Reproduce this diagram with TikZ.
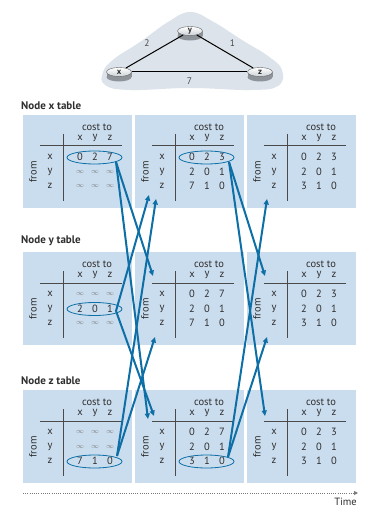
\documentclass[tikz,border=0pt]{standalone}
\usepackage{fontspec}
\setmainfont{PT Sans}
\usepackage{tikz}
\usetikzlibrary{arrows.meta, calc, shapes.geometric}
\definecolor{my_panelblue}{HTML}{CADDEE}
\definecolor{my_arrowblue}{HTML}{0E6FA6}
\definecolor{my_darkgray}{HTML}{2E2E2E}
\definecolor{my_rulegray}{HTML}{4A4A4A}
\definecolor{my_infgray}{HTML}{7A7A7A}
\definecolor{my_cloud}{HTML}{DCE3EA}
\definecolor{my_routerbody}{HTML}{8E9399}
\definecolor{my_routertop}{HTML}{CDD1D5}
\newcommand{\infsym}{{\color{my_infgray}\fontsize{7.5}{7.5}\selectfont$\infty$}}

\begin{document}
\begin{tikzpicture}[
    x=1pt, y=-1pt,   % 1 unit = 1pt, y grows downwards like the page
    panel/.style={fill=my_panelblue, anchor=north west, inner sep=0pt,
        minimum width=109pt, minimum height=93pt},
    txt/.style={text=my_darkgray, inner sep=1pt, font=\fontsize{10.5}{11}\selectfont},
    entry/.style={txt},
    fromlbl/.style={txt, rotate=90},
    title/.style={txt, anchor=west, font=\fontsize{11}{12}\selectfont\bfseries},
    rule/.style={my_rulegray, line width=1pt},
    pick/.style={my_arrowblue, line width=0.8pt},
    msg/.style={my_arrowblue, line width=2pt, -{Triangle[length=5.5pt,width=5pt]}},
    router/.style={ellipse, minimum width=25pt, minimum height=9pt, inner sep=0pt,
        draw=my_routerbody!70!black, line width=0.4pt, top color=white,
        bottom color=my_routertop, text=my_darkgray,
        font=\fontsize{8.5}{8}\selectfont\bfseries},
    link/.style={black, line width=1pt},
    cost/.style={text=my_rulegray, font=\fontsize{9.5}{10}\selectfont},
]
\useasboundingbox (0,0) rectangle (382,518);

% ── Network: cloud, links and routers ────────────────────────────────────────
\fill[my_cloud] plot[smooth cycle, tension=0.7] coordinates {
    (103,72) (114,59) (140,42) (168,22) (190,12) (212,21) (242,40)
    (268,56) (282,70) (278,86) (250,90) (190,88) (130,90) (105,85)};
% router bodies, the tops are the named nodes below
\foreach \cx/\cy in {119/72, 190/31, 260/72} {
  \fill[my_routerbody] (\cx-12.5,\cy) rectangle (\cx+12.5,\cy+5);
  \fill[my_routerbody] (\cx,\cy+5) ellipse [x radius=12.5pt, y radius=4.5pt];
}
\node[router] (rx) at (119,72) {x};
\node[router] (ry) at (190,31) {y};
\node[router] (rz) at (260,72) {z};
\draw[link] (rx) -- (ry) node[cost, midway, above left=1pt] {2};
\draw[link] (ry) -- (rz) node[cost, midway, above right=1pt] {1};
\draw[link] (rx) -- (rz) node[cost, midway, below=2pt] {7};

% ── Table titles ──────────────────────────────────────────────────────────────
\node[title] (tx) at (20,106) {Node x table};
\node[title] (ty) at (20,241) {Node y table};
\node[title] (tz) at (20,381) {Node z table};

% ── Empty tables: panel, header, rules and row labels ─────────────────────────
\foreach \c/\px in {1/23,2/135,3/247} {
  \foreach \r/\py in {1/115,2/252,3/390} {
    \begin{scope}[shift={(\px,\py)}]
      \node[panel] (p\r\c) at (0,0) {};
      \node[txt] (ct\r\c) at (74,12) {cost to};
      \foreach \h/\hx in {x/57,y/72,z/87}
        \node[txt] (h\r\c\h) at (\hx,23) {\h};
      \foreach \h/\hy in {x/42,y/56.5,z/71}
        \node[txt] (l\r\c\h) at (27,\hy) {\h};
      \node[fromlbl] (f\r\c) at (10,57) {from};
      \draw[rule] (17,31) -- (99,31);
      \draw[rule] (40,19) -- (40,86);
    \end{scope}
  }
}

% ── Table entries (panel row / panel column / line / x y z) ──────────────────
\foreach \r/\c/\ln/\ea/\eb/\ec in {
    1/1/1/0/2/7, 1/1/2/\infsym/\infsym/\infsym, 1/1/3/\infsym/\infsym/\infsym,
    1/2/1/0/2/3, 1/2/2/2/0/1, 1/2/3/7/1/0,
    1/3/1/0/2/3, 1/3/2/2/0/1, 1/3/3/3/1/0,
    2/1/1/\infsym/\infsym/\infsym, 2/1/2/2/0/1, 2/1/3/\infsym/\infsym/\infsym,
    2/2/1/0/2/7, 2/2/2/2/0/1, 2/2/3/7/1/0,
    2/3/1/0/2/3, 2/3/2/2/0/1, 2/3/3/3/1/0,
    3/1/1/\infsym/\infsym/\infsym, 3/1/2/\infsym/\infsym/\infsym, 3/1/3/7/1/0,
    3/2/1/0/2/7, 3/2/2/2/0/1, 3/2/3/3/1/0,
    3/3/1/0/2/3, 3/3/2/2/0/1, 3/3/3/3/1/0} {
  \pgfmathsetmacro{\ly}{42+14.5*(\ln-1)}
  \node[entry] (e\r\c-\ln-1) at ($(p\r\c.north west)+(57,\ly)$) {\ea};
  \node[entry] (e\r\c-\ln-2) at ($(p\r\c.north west)+(72,\ly)$) {\eb};
  \node[entry] (e\r\c-\ln-3) at ($(p\r\c.north west)+(87,\ly)$) {\ec};
}

% ── Distance vectors that are sent out ───────────────────────────────────────
\foreach \r/\c/\ly in {1/1/42.5, 2/1/57, 3/1/71.5, 1/2/42.5, 3/2/71.5}
  \draw[pick] ($(p\r\c.north west)+(71.5,\ly)$)
      ellipse [x radius=27.5pt, y radius=6.5pt];

% sources of the messages
\coordinate (s11) at ($(p11.north west)+(93,47)$);
\coordinate (s21) at ($(p21.north west)+(93,59)$);
\coordinate (s31) at ($(p31.north west)+(94,66)$);
\coordinate (s12) at ($(p12.north west)+(94,47)$);
\coordinate (s32) at ($(p32.north west)+(93,67)$);
% ends of the messages
\coordinate (t12a) at ($(p12.north west)+(14,80)$);
\coordinate (t12b) at ($(p12.north west)+(21,84)$);
\coordinate (t22a) at ($(p22.north west)+(18,24)$);
\coordinate (t22b) at ($(p22.north west)+(20,85)$);
\coordinate (t32a) at ($(p32.north west)+(13,29)$);
\coordinate (t32b) at ($(p32.north west)+(19,26)$);
\coordinate (t13)  at ($(p13.north west)+(20,84)$);
\coordinate (t23a) at ($(p23.north west)+(18,24)$);
\coordinate (t23b) at ($(p23.north west)+(20,85)$);
\coordinate (t33)  at ($(p33.north west)+(18,26)$);

% ── Messages ──────────────────────────────────────────────────────────────────
\foreach \a/\b in {s11/t22a, s11/t32a, s21/t12a, s21/t32b, s31/t12b, s31/t22b,
                   s12/t23a, s12/t33, s32/t13, s32/t23b}
  \draw[msg] (\a) -- (\b);

% ── Time axis ─────────────────────────────────────────────────────────────────
\coordinate (tstart) at (23,493);
\coordinate (tend) at (358,493);
\draw[my_infgray, line width=0.9pt, dash pattern=on 0.9pt off 1.3pt,
      -{Triangle[length=4pt,width=4pt]}] (tstart) -- (tend);
\node[txt, anchor=north east] (time) at (358,497) {Time};

\end{tikzpicture}
\end{document}
